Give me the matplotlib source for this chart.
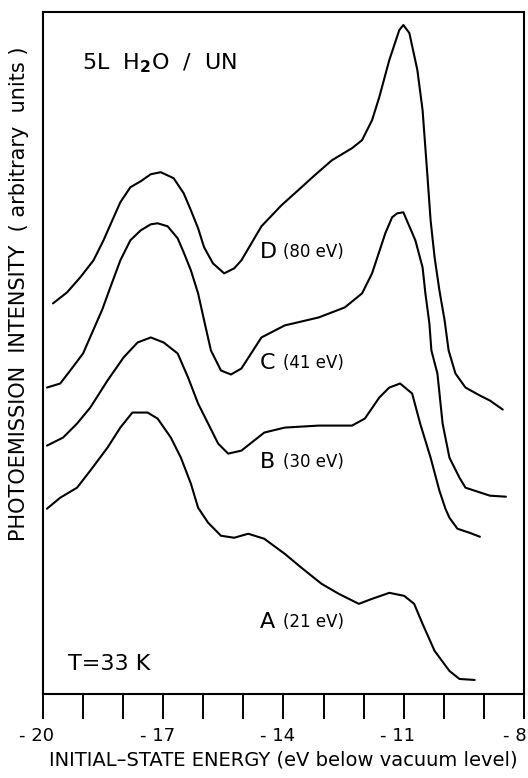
import matplotlib
matplotlib.use("Agg")
import matplotlib.pyplot as plt
import matplotlib.transforms as mtransforms

plt.rcParams['mathtext.fontset'] = 'dejavusans'

# initial-state energy (eV) and intensity (arbitrary units) for each spectrum
energia_d = [-19.75, -19.40, -19.07, -18.74, -18.49, -18.27, -18.07, -17.82, -17.56, -17.31,
             -17.06, -16.74, -16.49, -16.31, -16.13, -15.98, -15.76, -15.48, -15.23, -15.05,
             -14.80, -14.55, -14.05, -13.55, -13.22, -12.79, -12.29, -12.04, -11.79, -11.61,
             -11.36, -11.11, -11.01, -10.86, -10.66, -10.53, -10.41, -10.33, -10.23, -10.11,
             -9.98, -9.88, -9.71, -9.46, -9.10, -8.85, -8.53]
intens_d = [390, 401, 416, 433, 453, 473, 491, 506, 512, 519,
            521, 515, 500, 483, 465, 446, 430, 420, 425, 433,
            450, 467, 488, 506, 518, 533, 545, 553, 573, 596,
            633, 663, 668, 660, 623, 583, 518, 473, 436, 403,
            373, 343, 320, 306, 298, 293, 284]

energia_c = [-19.90, -19.57, -19.32, -19.00, -18.64, -18.52, -18.32, -18.07, -17.82, -17.56,
             -17.31, -17.14, -16.89, -16.64, -16.49, -16.31, -16.13, -15.98, -15.81, -15.56,
             -15.31, -15.05, -14.55, -13.97, -13.12, -12.47, -12.04, -11.79, -11.46, -11.29,
             -11.16, -11.01, -10.71, -10.53, -10.46, -10.36, -10.31, -10.16, -10.03, -9.86,
             -9.61, -9.46, -8.85, -8.45]
intens_c = [306, 310, 323, 340, 373, 384, 406, 433, 453, 463,
            469, 470, 467, 455, 441, 423, 400, 373, 343, 323,
            319, 325, 356, 368, 376, 386, 400, 420, 460, 476,
            480, 481, 453, 426, 400, 370, 343, 320, 270, 236,
            216, 206, 198, 197]

energia_b = [-19.90, -19.50, -19.15, -18.82, -18.39, -17.99, -17.64, -17.31, -16.99, -16.64,
             -16.38, -16.13, -15.88, -15.63, -15.38, -15.05, -14.48, -13.97, -13.12, -12.29,
             -11.97, -11.61, -11.36, -11.09, -10.79, -10.59, -10.33, -10.11, -9.96, -9.86,
             -9.66, -9.36, -9.10]
intens_b = [248, 256, 270, 286, 313, 336, 351, 356, 351, 340,
            316, 290, 270, 250, 240, 243, 261, 266, 268, 268,
            275, 296, 306, 310, 300, 270, 236, 203, 185, 176,
            165, 161, 157]

energia_a = [-19.90, -19.57, -19.15, -18.82, -18.39, -18.07, -17.77, -17.39, -17.14, -16.81,
             -16.56, -16.31, -16.13, -15.88, -15.56, -15.23, -14.88, -14.48, -13.97, -13.55,
             -13.05, -12.62, -12.12, -11.79, -11.36, -10.99, -10.74, -10.53, -10.23, -9.86,
             -9.61, -9.23]
intens_a = [185, 196, 206, 223, 246, 266, 281, 281, 275, 256,
            236, 210, 186, 171, 158, 156, 160, 155, 140, 126,
            110, 100, 90, 95, 101, 98, 90, 70, 43, 23,
            15, 14]

ticks_mayores = [-20, -17, -14, -11, -8]
etiquetas_ticks = ['- 20', '- 17', '- 14', '- 11', '- 8']
ticks_menores = [-19, -18, -16, -15, -13, -12, -10, -9]

fig = plt.figure(figsize=(5.28, 7.78), dpi=100)
ax = fig.add_axes([0.0814, 0.108, 0.911, 0.8766])

for e, i in [(energia_d, intens_d), (energia_c, intens_c),
             (energia_b, intens_b), (energia_a, intens_a)]:
    ax.plot(e, i, color='black', lw=1.5, solid_joinstyle='round', solid_capstyle='round')

ax.set_xlim(-20, -8)
ax.set_ylim(0, 681)

ax.set_xticks(ticks_mayores)
ax.set_xticklabels(etiquetas_ticks)
ax.set_xticks(ticks_menores, minor=True)
ax.tick_params(axis='x', which='both', direction='out', length=18, width=1.4, pad=6,
               labelsize=13)
ax.set_yticks([])
for s in ax.spines.values():
    s.set_linewidth(1.5)

# labels sit a little left of their ticks, last one kept inside the figure
desplaza = mtransforms.ScaledTranslation(-0.06, 0, fig.dpi_scale_trans)
for lab in ax.get_xticklabels():
    lab.set_transform(lab.get_transform() + desplaza)
    lab.set_fontsize(13)
ultima = ax.get_xticklabels()[-1]
ultima.set_ha('right')
ultima.set_transform(ultima.get_transform() + mtransforms.ScaledTranslation(0.09, 0, fig.dpi_scale_trans))

ax.set_xlabel('INITIAL\u2013STATE ENERGY (eV below vacuum level)', fontsize=14, labelpad=4)
ax.set_ylabel('PHOTOEMISSION  INTENSITY  ( arbitrary  units )', fontsize=15)
ax.yaxis.set_label_coords(-0.03, 0.587)

ax.text(-19.02, 630, r'5L  H$_\mathbf{2}$O  /  UN', fontsize=16, va='center')
ax.text(-19.37, 30, 'T=33 K', fontsize=16, va='center')

etiquetas = [('D', '(80 eV)', 441), ('C', '(41 eV)', 330), ('B', '(30 eV)', 232), ('A', '(21 eV)', 72)]
for letra, energia, y in etiquetas:
    ax.text(-14.6, y, letra, fontsize=16, va='center')
    ax.text(-14.0, y, energia, fontsize=12, va='center')

fig.savefig('out.png', dpi=100)
